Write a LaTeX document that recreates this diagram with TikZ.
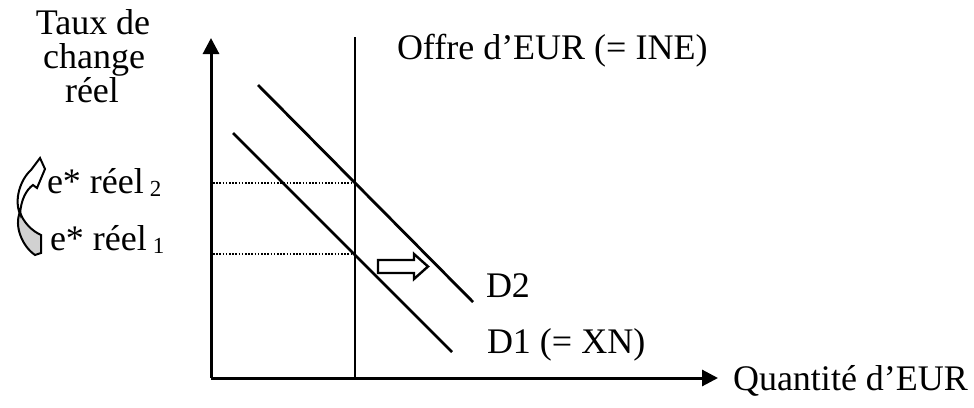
\documentclass[tikz,border=0pt]{standalone}
\usepackage{fontspec}
\setmainfont{Liberation Serif}
\usetikzlibrary{arrows.meta}
\tikzset{
  lbl/.style={font=\fontsize{36}{36}\selectfont, inner sep=0pt, outer sep=0pt},
  axisline/.style={line width=3pt, -{Triangle[length=16pt,width=16pt]}},
  curve/.style={line width=2.8pt},
  guide/.style={line width=1.6pt, dash pattern=on 1.6pt off 1.6pt},
}
\newcommand{\mysub}[1]{\,\raisebox{-3pt}{\fontsize{23}{23}\selectfont #1}}
\begin{document}
\begin{tikzpicture}[x=1pt,y=-1pt]
\useasboundingbox (0,0) rectangle (974,407);
% coordinates
\coordinate (O) at (211,378);
\coordinate (Ytop) at (211,38);
\coordinate (Xend) at (718,378);
\coordinate (Stop) at (355,37);
\coordinate (Sbot) at (355,378);
\coordinate (D1a) at (233,133);
\coordinate (D1b) at (452,352);
\coordinate (D2a) at (258,85);
\coordinate (D2b) at (473,302);
\coordinate (E2l) at (213,183);
\coordinate (E2r) at (355,183);
\coordinate (E1l) at (213,254);
\coordinate (E1r) at (355,254);
% axes
\draw[axisline] (O) -- (Ytop);
\draw[axisline] (O) -- (Xend);
% supply
\draw[line width=2.8pt] (Stop) -- (Sbot);
% demand curves
\draw[curve] (D1a) -- (D1b);
\draw[curve] (D2a) -- (D2b);
% dotted guides
\draw[guide] (E2l) -- (E2r);
\draw[guide] (E1l) -- (E1r);
% hollow shift arrow
\draw[line width=2.4pt, fill=white] (378,260) -- (414,260) -- (414,254) -- (428,266.5) -- (414,279) -- (414,273) -- (378,273) -- cycle;
% curved arrow on the left
\draw[line width=2pt, fill=black!18] (20,212) .. controls (14,226) and (22,246) .. (35,255) -- (41,253) -- (41,235) .. controls (32,231) and (23,222) .. (20,212) -- cycle;
\draw[line width=2pt, fill=white] (20,214) .. controls (14,200) and (20,180) .. (31,170) -- (40,158) -- (45,169) -- (37,188) -- (33,185) .. controls (26,190) and (21,200) .. (20,214) -- cycle;
% labels
\node[lbl, anchor=base] (t1) at (93,34) {Taux de};
\node[lbl, anchor=base] (t2) at (94,68) {change};
\node[lbl, anchor=base] (t3) at (92,102) {réel};
\node[lbl, anchor=base west] (offre) at (397,59) {Offre d’EUR (= INE)};
\node[lbl, anchor=base west] (quant) at (733,390) {Quantité d’EUR};
\node[lbl, anchor=base west] (d2) at (486,297) {D2};
\node[lbl, anchor=base west] (d1) at (487,353) {D1 (= XN)};
\node[lbl, anchor=base west] (e2) at (47,193) {e* réel\mysub{2}};
\node[lbl, anchor=base west] (e1) at (50,250) {e* réel\mysub{1}};
\end{tikzpicture}
\end{document}
